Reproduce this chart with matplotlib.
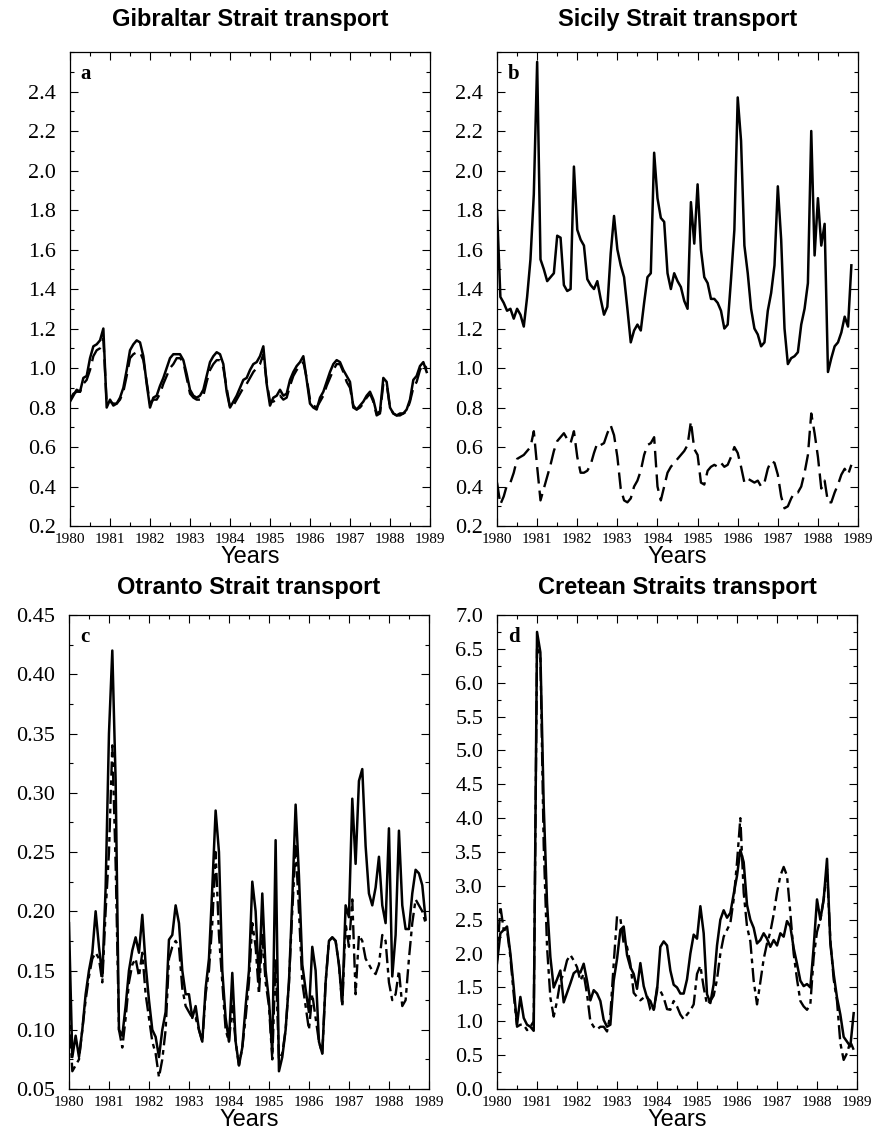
import numpy as np
import matplotlib
matplotlib.use("Agg")
from matplotlib import pyplot as plt
from matplotlib.ticker import MultipleLocator, FormatStrFormatter

# monthly transports (Sv), Jan 1980 onwards; solid = total, dashed = second estimate
gibraltar_solid = [
    0.83, 0.86, 0.89, 0.88, 0.95, 0.96, 1.05, 1.11, 1.12, 1.14, 1.20, 0.80,
    0.84, 0.81, 0.82, 0.85, 0.90, 0.99, 1.09, 1.12, 1.14, 1.13, 1.06, 0.92,
    0.80, 0.85, 0.86, 0.91, 0.95, 1.00, 1.05, 1.07, 1.07, 1.07, 1.04, 0.97,
    0.89, 0.86, 0.85, 0.86, 0.89, 0.96, 1.03, 1.06, 1.08, 1.07, 1.02, 0.88,
    0.80, 0.83, 0.86, 0.90, 0.94, 0.95, 0.99, 1.02, 1.03, 1.06, 1.11, 0.92,
    0.81, 0.85, 0.86, 0.89, 0.86, 0.87, 0.94, 0.98, 1.01, 1.03, 1.06, 0.94,
    0.82, 0.80, 0.79, 0.85, 0.88, 0.93, 0.98, 1.02, 1.04, 1.03, 0.99, 0.96,
    0.93, 0.80, 0.79, 0.81, 0.83, 0.86, 0.88, 0.84, 0.77, 0.78, 0.95, 0.93,
    0.80, 0.77, 0.76, 0.77, 0.77, 0.79, 0.84, 0.94, 0.96, 1.01, 1.03, 0.98,
]
gibraltar_dashed = [
    0.84, 0.87, 0.88, 0.88, 0.92, 0.94, 0.99, 1.06, 1.09, 1.10, 1.15, 0.82,
    0.83, 0.82, 0.82, 0.84, 0.88, 0.96, 1.05, 1.07, 1.08, 1.08, 1.04, 0.93,
    0.82, 0.84, 0.84, 0.87, 0.92, 0.96, 1.00, 1.02, 1.05, 1.05, 1.03, 0.95,
    0.87, 0.85, 0.84, 0.84, 0.86, 0.93, 0.99, 1.02, 1.04, 1.04, 1.00, 0.90,
    0.80, 0.81, 0.84, 0.87, 0.90, 0.92, 0.95, 0.98, 1.00, 1.02, 1.07, 0.93,
    0.83, 0.83, 0.84, 0.86, 0.84, 0.85, 0.91, 0.96, 0.99, 1.01, 1.03, 0.95,
    0.84, 0.81, 0.80, 0.83, 0.86, 0.91, 0.95, 0.99, 1.02, 1.02, 0.98, 0.93,
    0.90, 0.81, 0.79, 0.80, 0.82, 0.85, 0.87, 0.83, 0.76, 0.77, 0.92, 0.92,
    0.80, 0.77, 0.76, 0.76, 0.77, 0.78, 0.83, 0.90, 0.93, 0.99, 1.02, 1.00,
]
sicily_solid = [
    1.80, 1.36, 1.33, 1.29, 1.30, 1.25, 1.30, 1.27, 1.21, 1.36, 1.55, 1.88,
    2.55, 1.55, 1.50, 1.44, 1.46, 1.48, 1.67, 1.66, 1.42, 1.39, 1.40, 2.02,
    1.70, 1.65, 1.62, 1.45, 1.42, 1.40, 1.44, 1.35, 1.27, 1.31, 1.58, 1.77,
    1.60, 1.52, 1.46, 1.30, 1.13, 1.19, 1.22, 1.19, 1.33, 1.46, 1.48, 2.09,
    1.86, 1.76, 1.74, 1.48, 1.40, 1.48, 1.44, 1.41, 1.34, 1.30, 1.84, 1.63,
    1.93, 1.60, 1.46, 1.43, 1.35, 1.35, 1.33, 1.29, 1.20, 1.22, 1.45, 1.70,
    2.37, 2.15, 1.62, 1.48, 1.30, 1.20, 1.17, 1.11, 1.13, 1.29, 1.38, 1.52,
    1.92, 1.65, 1.20, 1.02, 1.05, 1.06, 1.08, 1.22, 1.30, 1.43, 2.20, 1.57,
    1.86, 1.62, 1.73, 0.98, 1.05, 1.11, 1.13, 1.18, 1.26, 1.21, 1.52,
]
sicily_dashed = [
    0.42, 0.31, 0.35, 0.41, 0.42, 0.47, 0.54, 0.55, 0.56, 0.58, 0.60, 0.68,
    0.50, 0.33, 0.39, 0.45, 0.51, 0.58, 0.63, 0.65, 0.67, 0.64, 0.62, 0.68,
    0.55, 0.47, 0.47, 0.48, 0.51, 0.57, 0.62, 0.61, 0.62, 0.67, 0.71, 0.66,
    0.55, 0.39, 0.33, 0.32, 0.34, 0.40, 0.43, 0.48, 0.56, 0.61, 0.62, 0.65,
    0.40, 0.33, 0.40, 0.47, 0.50, 0.52, 0.54, 0.56, 0.58, 0.61, 0.73, 0.59,
    0.56, 0.42, 0.41, 0.48, 0.50, 0.51, 0.50, 0.52, 0.50, 0.51, 0.55, 0.60,
    0.57, 0.50, 0.42, 0.44, 0.43, 0.42, 0.43, 0.40, 0.42, 0.49, 0.53, 0.52,
    0.46, 0.35, 0.29, 0.30, 0.34, 0.37, 0.37, 0.40, 0.47, 0.56, 0.77, 0.67,
    0.55, 0.39, 0.43, 0.32, 0.32, 0.37, 0.41, 0.46, 0.49, 0.46, 0.51,
]
otranto_solid = [
    0.190, 0.077, 0.095, 0.077, 0.100, 0.130, 0.150, 0.165, 0.200, 0.170, 0.145, 0.220,
    0.350, 0.420, 0.310, 0.100, 0.095, 0.120, 0.150, 0.167, 0.178, 0.165, 0.197, 0.155,
    0.125, 0.100, 0.094, 0.077, 0.100, 0.115, 0.176, 0.180, 0.205, 0.190, 0.150, 0.130,
    0.130, 0.110, 0.120, 0.100, 0.090, 0.135, 0.160, 0.220, 0.285, 0.250, 0.150, 0.110,
    0.090, 0.148, 0.090, 0.070, 0.085, 0.120, 0.150, 0.225, 0.200, 0.140, 0.215, 0.150,
    0.125, 0.080, 0.260, 0.065, 0.077, 0.100, 0.140, 0.210, 0.290, 0.230, 0.155, 0.134,
    0.115, 0.170, 0.150, 0.090, 0.080, 0.140, 0.175, 0.178, 0.175, 0.155, 0.122, 0.205,
    0.195, 0.295, 0.240, 0.310, 0.320, 0.255, 0.215, 0.205, 0.220, 0.246, 0.205, 0.190,
    0.270, 0.145, 0.180, 0.268, 0.205, 0.185, 0.185, 0.215, 0.235, 0.232, 0.222, 0.193,
]
otranto_dashed = [
    0.120, 0.065, 0.070, 0.075, 0.100, 0.125, 0.145, 0.160, 0.165, 0.160, 0.140, 0.200,
    0.250, 0.340, 0.240, 0.100, 0.085, 0.110, 0.140, 0.155, 0.160, 0.145, 0.165, 0.130,
    0.110, 0.090, 0.080, 0.060, 0.075, 0.100, 0.160, 0.170, 0.175, 0.170, 0.135, 0.120,
    0.115, 0.110, 0.110, 0.100, 0.090, 0.130, 0.150, 0.190, 0.250, 0.180, 0.140, 0.100,
    0.090, 0.120, 0.090, 0.070, 0.085, 0.110, 0.140, 0.190, 0.170, 0.130, 0.180, 0.140,
    0.120, 0.075, 0.160, 0.075, 0.080, 0.100, 0.140, 0.200, 0.255, 0.200, 0.140, 0.120,
    0.100, 0.130, 0.110, 0.090, 0.080, 0.140, 0.175, 0.178, 0.175, 0.155, 0.120, 0.190,
    0.170, 0.210, 0.130, 0.180, 0.175, 0.160, 0.155, 0.150, 0.147, 0.155, 0.180, 0.175,
    0.140, 0.125, 0.130, 0.150, 0.120, 0.125, 0.160, 0.190, 0.210, 0.205, 0.200, 0.190,
]
cretan_solid = [
    1.86, 2.30, 2.35, 2.40, 2.00, 1.50, 0.95, 1.36, 1.05, 0.95, 0.92, 0.86,
    6.75, 6.45, 4.20, 2.75, 1.95, 1.50, 1.62, 1.75, 1.28, 1.42, 1.56, 1.71,
    1.75, 1.72, 1.85, 1.60, 1.31, 1.46, 1.41, 1.30, 1.02, 0.92, 0.95, 1.60,
    1.92, 2.35, 2.40, 1.98, 1.80, 1.70, 1.48, 1.86, 1.52, 1.35, 1.30, 1.17,
    1.45, 2.10, 2.18, 2.12, 1.75, 1.54, 1.50, 1.41, 1.41, 1.62, 2.00, 2.28,
    2.22, 2.70, 2.30, 1.40, 1.27, 1.55, 2.12, 2.50, 2.64, 2.53, 2.60, 2.88,
    3.15, 3.53, 3.35, 2.72, 2.50, 2.38, 2.15, 2.20, 2.30, 2.22, 2.10, 2.20,
    2.12, 2.30, 2.25, 2.48, 2.40, 2.08, 1.85, 1.60, 1.52, 1.55, 1.50, 2.10,
    2.80, 2.50, 2.80, 3.40, 2.15, 1.70, 1.35, 1.10, 0.77, 0.70, 0.63, 1.12,
]
cretan_dashed = [
    1.90, 2.70, 2.35, 2.35, 1.95, 1.40, 0.92, 0.95, 0.95, 0.87, 0.92, 1.00,
    6.50, 6.40, 3.60, 2.10, 1.35, 1.07, 1.30, 1.60, 1.70, 1.90, 1.98, 1.90,
    1.80, 1.60, 1.70, 1.40, 1.00, 0.92, 0.88, 0.92, 0.92, 0.85, 1.10, 1.85,
    2.55, 2.52, 2.15, 2.10, 1.85, 1.42, 1.36, 1.31, 1.35, 1.38, 1.17, 1.15,
    1.50, 1.45, 1.35, 1.18, 1.17, 1.30, 1.22, 1.10, 1.03, 1.10, 1.16, 1.25,
    1.70, 1.82, 1.50, 1.25, 1.30, 1.38, 1.62, 2.00, 2.25, 2.35, 2.45, 2.80,
    3.35, 4.00, 2.90, 2.40, 2.18, 1.60, 1.25, 1.58, 1.92, 2.15, 2.32, 2.58,
    2.90, 3.15, 3.28, 3.15, 2.60, 2.00, 1.62, 1.30, 1.22, 1.17, 1.25, 1.95,
    2.32, 2.50, 2.80, 3.25, 2.20, 1.62, 1.30, 0.68, 0.43, 0.53, 0.70, 0.58,
]

titles = ["Gibraltar Strait transport", "Sicily Strait transport",
          "Otranto Strait transport", "Cretean Straits transport"]
letters = ["a", "b", "c", "d"]

SERIF = "Liberation Serif"
SANS = "Liberation Sans"

fig = plt.figure(figsize=(8.72, 11.33), dpi=100)

panels = [
    # rect, solid, dashed, ylim, highest labelled tick, major, minor, fmt, dash style
    ([0.0803, 0.5357, 0.4128, 0.4184], gibraltar_solid, gibraltar_dashed,
     (0.2, 2.6), 2.4, 0.2, 0.1, "%.1f", (0, (7, 3))),
    ([0.5700, 0.5357, 0.4140, 0.4184], sicily_solid, sicily_dashed,
     (0.2, 2.6), 2.4, 0.2, 0.1, "%.1f", (0, (7, 3))),
    ([0.0791, 0.0388, 0.4128, 0.4184], otranto_solid, otranto_dashed,
     (0.05, 0.45), 0.45, 0.05, 0.025, "%.2f", (0, (6, 2, 2, 2))),
    ([0.5700, 0.0388, 0.4128, 0.4184], cretan_solid, cretan_dashed,
     (0.0, 7.0), 7.0, 0.5, 0.25, "%.1f", (0, (6, 2, 2, 2))),
]

for k, (rect, solid, dashed, ylim, ytop, major, minor, fmt, dash) in enumerate(panels):
    ax = fig.add_axes(rect)
    t_solid = 1980 + np.arange(len(solid)) / 12.0
    t_dashed = 1980 + np.arange(len(dashed)) / 12.0
    ax.plot(t_dashed, dashed, color="black", lw=1.7, linestyle=dash)
    ax.plot(t_solid, solid, color="black", lw=1.8)

    ax.set_xlim(1980, 1989)
    ax.set_ylim(*ylim)
    ax.xaxis.set_major_locator(MultipleLocator(1))
    ax.xaxis.set_minor_locator(MultipleLocator(0.5))
    ax.set_yticks(np.arange(ylim[0], ytop + major / 2, major))
    ax.yaxis.set_minor_locator(MultipleLocator(minor))
    ax.yaxis.set_major_formatter(FormatStrFormatter(fmt))
    ax.xaxis.set_major_formatter(FormatStrFormatter("%d"))
    ax.tick_params(which="both", direction="in", top=True, right=True, width=0.8)
    ax.tick_params(which="major", length=6)
    ax.tick_params(which="minor", length=3)
    ax.tick_params(axis="x", labelsize=11, pad=5)
    ax.tick_params(axis="y", labelsize=16, pad=10)
    for lab in ax.get_xticklabels() + ax.get_yticklabels():
        lab.set_family(SERIF)
    for sp in ax.spines.values():
        sp.set_linewidth(0.9)

    ax.set_xlabel("Years", fontsize=17, family=SANS, labelpad=0)
    ax.set_title(titles[k], fontsize=17, fontweight="bold", family=SANS,
                 pad=19 if k < 2 else 15)
    ax.text(0.03, 0.975, letters[k], transform=ax.transAxes, ha="left", va="top",
            fontsize=15, fontweight="bold", family=SERIF)

fig.savefig("out.png", dpi=100)
